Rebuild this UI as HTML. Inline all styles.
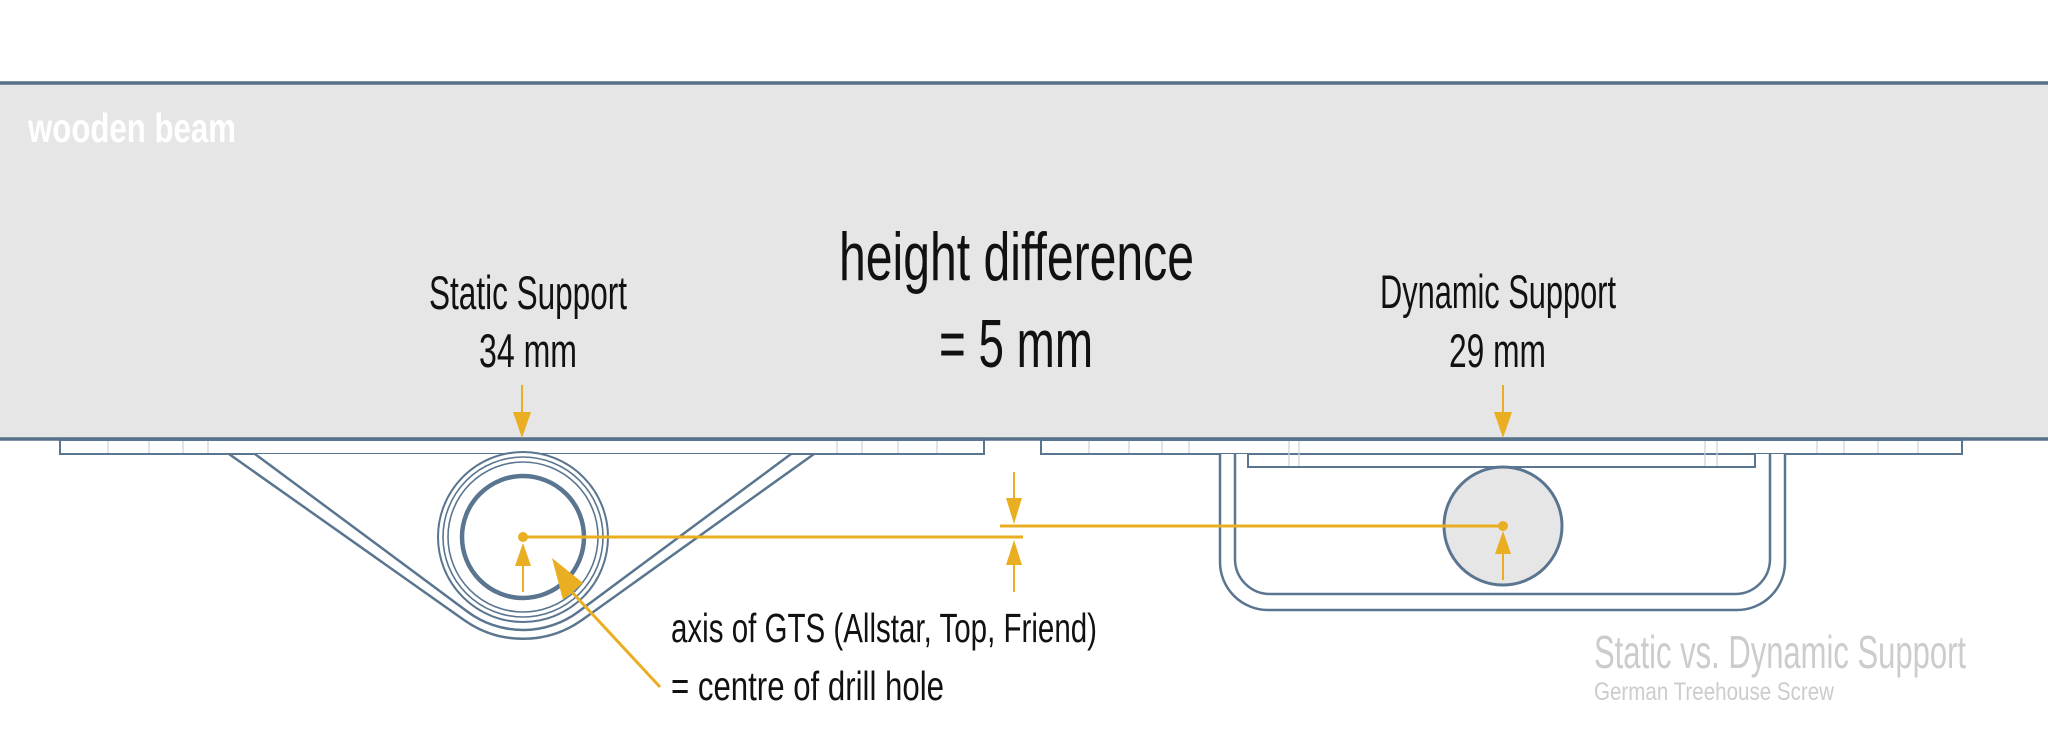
<!DOCTYPE html>
<html><head><meta charset="utf-8"><style>
html,body{margin:0;padding:0;background:#fff;}
svg{display:block;}
text{font-family:"Liberation Sans Narrow","Liberation Sans",sans-serif;}
</style></head><body>
<svg width="2048" height="734" viewBox="0 0 2048 734" xmlns="http://www.w3.org/2000/svg">
<!-- beam -->
<rect x="-2" y="83" width="2052" height="356" fill="#e6e6e6" stroke="#56708a" stroke-width="3.5"/>
<text x="28" y="142" font-size="41" font-weight="bold" fill="#fff" textLength="208" lengthAdjust="spacingAndGlyphs">wooden beam</text>
<text x="839" y="280" font-size="68" fill="#111" textLength="355" lengthAdjust="spacingAndGlyphs">height difference</text>
<text x="939" y="367" font-size="68" fill="#111" textLength="154" lengthAdjust="spacingAndGlyphs">= 5 mm</text>
<text x="429" y="309" font-size="47" fill="#111" textLength="198" lengthAdjust="spacingAndGlyphs">Static Support</text>
<text x="479" y="367" font-size="47" fill="#111" textLength="98" lengthAdjust="spacingAndGlyphs">34 mm</text>
<text x="1380" y="308" font-size="47" fill="#111" textLength="236" lengthAdjust="spacingAndGlyphs">Dynamic Support</text>
<text x="1449" y="367" font-size="47" fill="#111" textLength="97" lengthAdjust="spacingAndGlyphs">29 mm</text>

<g fill="none" stroke="#5a7590">
<!-- static plate -->
<rect x="60" y="440" width="924" height="14" fill="#fff" stroke-width="2"/>
<g stroke="#c8d2dc" stroke-width="1.2">
<line x1="108" y1="441" x2="108" y2="453"/><line x1="149" y1="441" x2="149" y2="453"/><line x1="183" y1="441" x2="183" y2="453"/><line x1="208" y1="441" x2="208" y2="453"/>
<line x1="837" y1="441" x2="837" y2="453"/><line x1="862" y1="441" x2="862" y2="453"/><line x1="898" y1="441" x2="898" y2="453"/><line x1="937" y1="441" x2="937" y2="453"/>
</g>
<!-- V bracket -->
<path d="M229 454 L464 620 A102 102 0 0 0 582 620 L814 454" stroke-width="2.5" fill="#fff"/>
<path d="M255 454 L467.6 611.7 A93 93 0 0 0 578.4 611.7 L791 454" stroke-width="2.5"/>
<line x1="229" y1="454" x2="255" y2="454" stroke-width="2"/>
<line x1="791" y1="454" x2="814" y2="454" stroke-width="2"/>
<!-- rings -->
<circle cx="523" cy="537" r="85" stroke-width="2" fill="#fff"/>
<circle cx="523" cy="537" r="80" stroke-width="1.6"/>
<circle cx="523" cy="537" r="75" stroke-width="1.6"/>
<circle cx="523" cy="537" r="61" stroke-width="4.5"/>

<!-- dynamic plate -->
<rect x="1041" y="440" width="921" height="14" fill="#fff" stroke-width="2"/>
<!-- U bracket -->
<path d="M1220 454 L1220 562 A48 48 0 0 0 1268 610 L1737 610 A48 48 0 0 0 1785 562 L1785 454" stroke-width="2.5" fill="#fff"/>
<path d="M1235 454 L1235 559 A35 35 0 0 0 1270 594 L1735 594 A35 35 0 0 0 1770 559 L1770 454" stroke-width="2.5"/>
<rect x="1248" y="454" width="507" height="13" fill="#fff" stroke-width="2"/>
<g stroke="#c8d2dc" stroke-width="1.2">
<line x1="1089" y1="441" x2="1089" y2="453"/><line x1="1129" y1="441" x2="1129" y2="453"/><line x1="1162" y1="441" x2="1162" y2="453"/><line x1="1189" y1="441" x2="1189" y2="453"/>
<line x1="1289" y1="441" x2="1289" y2="466"/><line x1="1299" y1="441" x2="1299" y2="466"/><line x1="1705" y1="441" x2="1705" y2="466"/><line x1="1717" y1="441" x2="1717" y2="466"/>
<line x1="1817" y1="441" x2="1817" y2="453"/><line x1="1844" y1="441" x2="1844" y2="453"/><line x1="1878" y1="441" x2="1878" y2="453"/><line x1="1918" y1="441" x2="1918" y2="453"/>
</g>
<circle cx="1503" cy="526" r="59" fill="#e6e6e6" stroke-width="3"/>
</g>

<!-- yellow annotations -->
<g stroke="#eaae22" fill="#eaae22">
<line x1="522" y1="385" x2="522" y2="415" stroke-width="2"/>
<polygon points="513,412 531,412 522,438" stroke="none"/>
<line x1="1503" y1="385" x2="1503" y2="415" stroke-width="2"/>
<polygon points="1494,412 1512,412 1503,438" stroke="none"/>

<line x1="523" y1="537" x2="1023" y2="537" stroke-width="3"/>
<line x1="1503" y1="526" x2="1000" y2="526" stroke-width="3"/>
<circle cx="523" cy="537" r="5" stroke="none"/>
<circle cx="1503" cy="526" r="5" stroke="none"/>

<line x1="523" y1="560" x2="523" y2="592" stroke-width="2"/>
<polygon points="515,566 531,566 523,543" stroke="none"/>
<line x1="1503" y1="550" x2="1503" y2="580" stroke-width="2"/>
<polygon points="1495,554 1511,554 1503,531" stroke="none"/>

<line x1="1014" y1="472" x2="1014" y2="500" stroke-width="2"/>
<polygon points="1006,498 1022,498 1014,524" stroke="none"/>
<line x1="1014" y1="565" x2="1014" y2="592" stroke-width="2"/>
<polygon points="1006,565 1022,565 1014,540" stroke="none"/>

<line x1="660" y1="687" x2="570" y2="590" stroke-width="3"/>
<polygon points="552,558 583,583 563,600" stroke="none"/>
</g>

<text x="671" y="642" font-size="41" fill="#111" textLength="426" lengthAdjust="spacingAndGlyphs">axis of GTS (Allstar, Top, Friend)</text>
<text x="671" y="700" font-size="41" fill="#111" textLength="273" lengthAdjust="spacingAndGlyphs">= centre of drill hole</text>
<text x="1594" y="668" font-size="46" fill="#cccccc" textLength="372" lengthAdjust="spacingAndGlyphs">Static vs. Dynamic Support</text>
<text x="1594" y="700" font-size="25" fill="#cccccc" textLength="240" lengthAdjust="spacingAndGlyphs">German Treehouse Screw</text>
</svg>
</body></html>
